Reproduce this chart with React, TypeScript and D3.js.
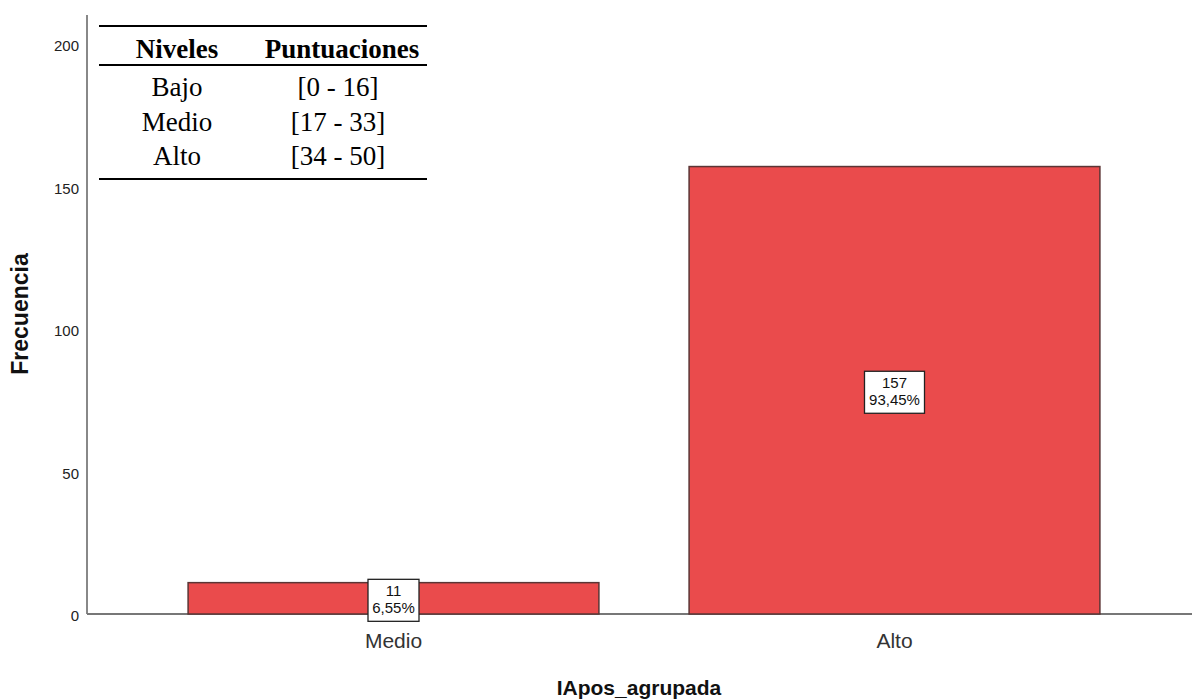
import React from "react";
import * as d3 from "d3";

const categories = ["Medio", "Alto"];
const counts = [11, 157];
const percents = ["6,55%", "93,45%"];
const yTicks = [0, 50, 100, 150, 200];
const tableHeader = ["Niveles", "Puntuaciones"];
const tableLevels = ["Bajo", "Medio", "Alto"];
const tableRanges = ["[0 - 16]", "[17 - 33]", "[34 - 50]"];

export default function App() {
  const W = 1192, H = 700;
  const y = d3.scaleLinear().domain([0, 200]).range([614, 44]);
  const x = d3.scaleBand<string>().domain(categories).range([143, 1145]).paddingInner(0.18).paddingOuter(0.09);
  const sans = "'Liberation Sans', Arial, sans-serif";
  const serif = "'Liberation Serif', 'Times New Roman', serif";
  return (
    <svg width={W} height={H} style={{ position: "absolute", left: 0, top: 0, background: "#fff" }}>
      <line x1={87} x2={87} y1={15} y2={614} stroke="#888" strokeWidth={2} />
      <line x1={87} x2={1192} y1={614} y2={614} stroke="#777" strokeWidth={2} />
      {yTicks.map((t) => (
        <text key={t} x={79} y={y(t) + 7} textAnchor="end" fontFamily={sans} fontSize={15} fill="#222">{t}</text>
      ))}
      {categories.map((c, i) => {
        const bx = x(c)!;
        const bw = x.bandwidth();
        const cx = bx + bw / 2;
        const top = y(counts[i]);
        const mid = (top + y(0)) / 2 + 2;
        const boxW = String(counts[i]).length > 2 ? 60 : 51;
        return (
          <g key={c}>
            <rect x={bx} y={top} width={bw} height={y(0) - top} fill="#EA4B4C" stroke="#5b3535" strokeWidth={1.5} />
            <rect x={cx - boxW / 2} y={mid - 21} width={boxW} height={42} fill="#fff" stroke="#222" strokeWidth={1.3} />
            <text x={cx} y={mid - 4} textAnchor="middle" fontFamily={sans} fontSize={15} fill="#111">{counts[i]}</text>
            <text x={cx} y={mid + 13} textAnchor="middle" fontFamily={sans} fontSize={15} fill="#111">{percents[i]}</text>
            <text x={cx} y={648} textAnchor="middle" fontFamily={sans} fontSize={21} fill="#333">{c}</text>
          </g>
        );
      })}
      <text transform="translate(28,314) rotate(-90)" textAnchor="middle" fontFamily={sans} fontWeight="bold" fontSize={23} fill="#111">Frecuencia</text>
      <text x={639} y={695} textAnchor="middle" fontFamily={sans} fontWeight="bold" fontSize={21} fill="#111">IApos_agrupada</text>
      <line x1={99} x2={427} y1={26} y2={26} stroke="#000" strokeWidth={2} />
      <line x1={99} x2={427} y1={65} y2={65} stroke="#000" strokeWidth={2} />
      <line x1={99} x2={427} y1={179} y2={179} stroke="#000" strokeWidth={2} />
      <text x={177} y={58} textAnchor="middle" fontFamily={serif} fontWeight="bold" fontSize={27}>{tableHeader[0]}</text>
      <text x={342} y={58} textAnchor="middle" fontFamily={serif} fontWeight="bold" fontSize={27}>{tableHeader[1]}</text>
      {tableLevels.map((l, i) => (
        <g key={l}>
          <text x={177} y={96 + i * 34.5} textAnchor="middle" fontFamily={serif} fontSize={27}>{l}</text>
          <text x={338} y={96 + i * 34.5} textAnchor="middle" fontFamily={serif} fontSize={27}>{tableRanges[i]}</text>
        </g>
      ))}
    </svg>
  );
}
